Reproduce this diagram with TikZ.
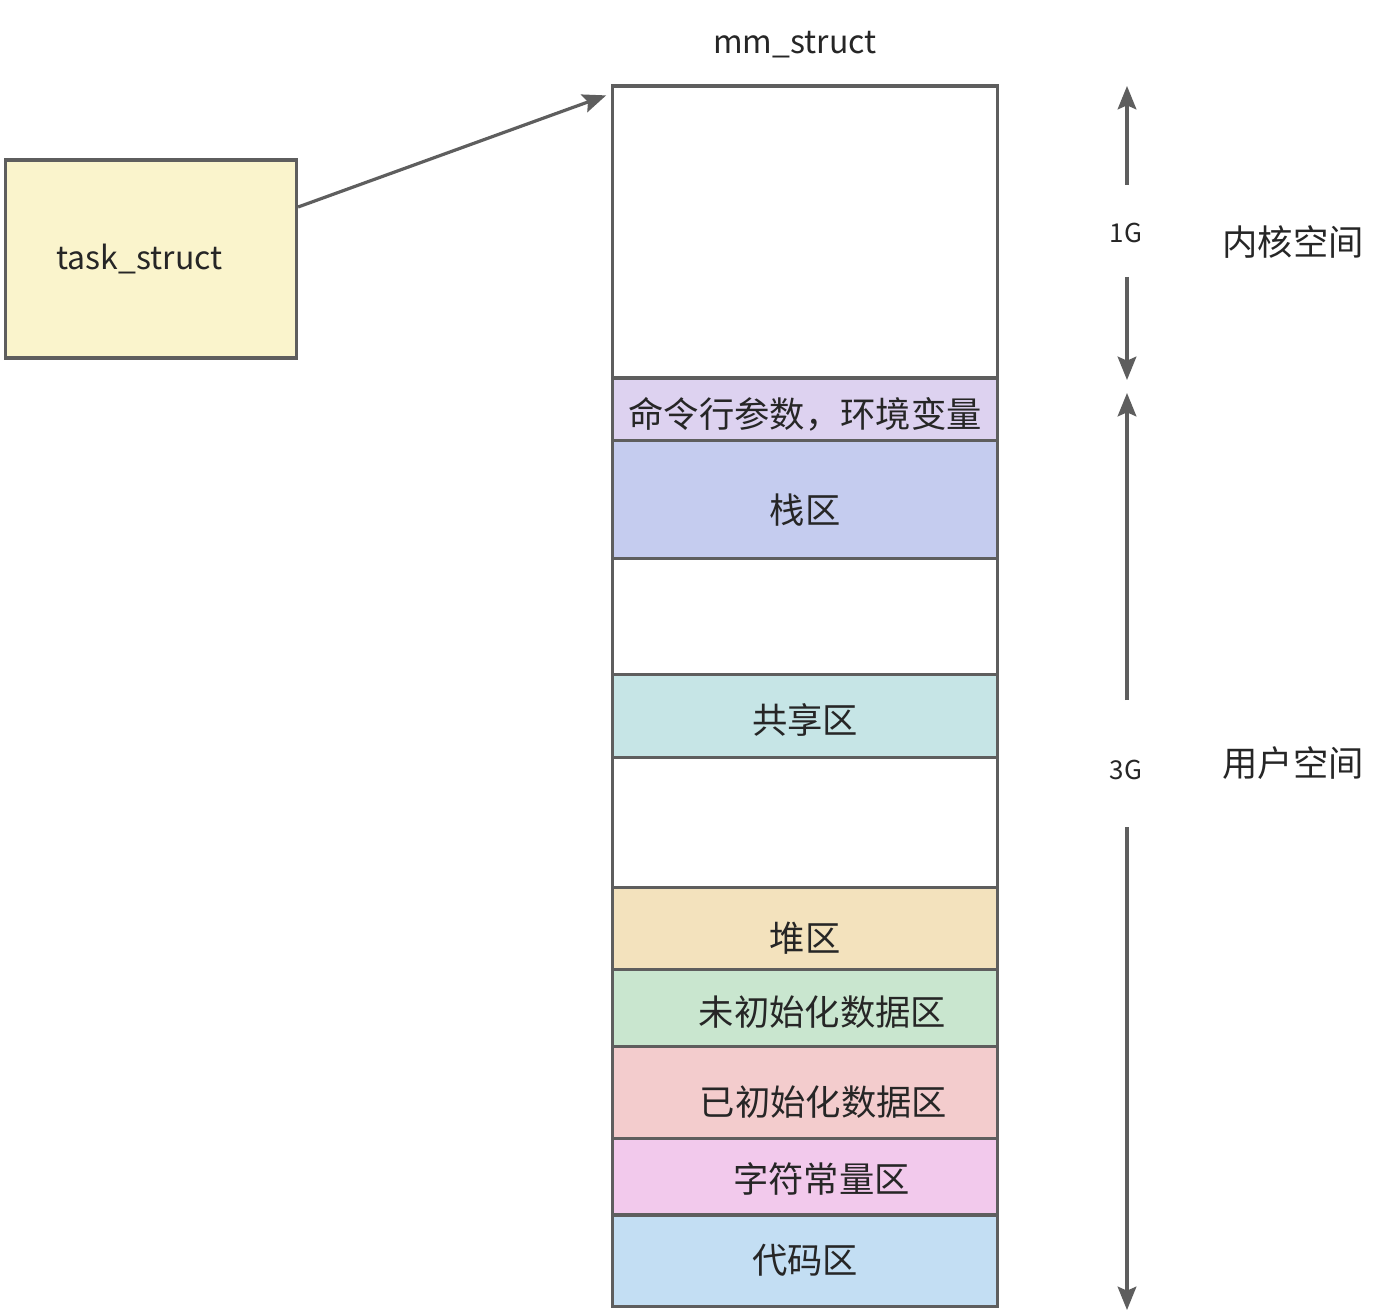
\documentclass[tikz,border=0pt]{standalone}
\usepackage{fontspec}
\setmainfont{Noto Sans CJK SC}
\usetikzlibrary{arrows.meta}
\definecolor{linec}{RGB}{94,94,94}
\definecolor{textc}{RGB}{38,38,38}
\definecolor{taskc}{RGB}{250,244,204}
\definecolor{cmdc}{RGB}{221,210,240}
\definecolor{stackc}{RGB}{197,204,239}
\definecolor{sharec}{RGB}{198,229,230}
\definecolor{heapc}{RGB}{243,226,189}
\definecolor{uninitc}{RGB}{201,230,207}
\definecolor{initc}{RGB}{243,204,205}
\definecolor{constc}{RGB}{242,201,236}
\definecolor{codec}{RGB}{195,222,243}
\begin{document}
\begin{tikzpicture}[x=0.75pt,y=-0.75pt,
  band/.style={rectangle, draw=linec, line width=2.4pt, minimum width=289.125pt, inner sep=0pt, minimum height=#1*0.75pt},
  lbl/.style={text=textc, font=\fontsize{26.5pt}{30pt}\selectfont, inner sep=0pt},
  latin/.style={text=textc, font=\fontsize{24pt}{28pt}\selectfont, inner sep=0pt},
  small/.style={text=textc, font=\fontsize{19.5pt}{22pt}\selectfont, inner sep=0pt},
  arr/.style={draw=linec, line width=2.4pt, -{Stealth[length=17.5pt,width=14pt,inset=3pt]}},
]
\useasboundingbox (0,0) rectangle (1381,1312);

% task_struct
\node[rectangle, draw=linec, line width=2.4pt, fill=taskc, minimum width=218.25pt, minimum height=148.5pt, inner sep=0pt, latin] (task) at (151,259) {task\_struct\hspace*{17.25pt}};

% mm_struct bands
\node[band=292, fill=white] (kernel) at (805,232) {};
\node[band=62.5, fill=cmdc] (cmd) at (805,409.25) {};
\node[band=118, fill=stackc] (stack) at (805,499.5) {};
\node[band=116, fill=white] (gapa) at (805,616.5) {};
\node[band=83, fill=sharec] (share) at (805,716) {};
\node[band=130, fill=white] (gapb) at (805,822.5) {};
\node[band=82, fill=heapc] (heap) at (805,928.5) {};
\node[band=77, fill=uninitc] (uninit) at (805,1008) {};
\node[band=92, fill=initc] (init) at (805,1092.5) {};
\node[band=76.5, fill=constc] (const) at (805,1176.75) {};
\node[band=91.5, fill=codec] (code) at (805,1260.75) {};

% band texts
\node[lbl] (tcmd) at (805,414) {命令行参数，环境变量};
\node[lbl] (tstack) at (805,510) {栈区};
\node[lbl] (tshare) at (805,720) {共享区};
\node[lbl] (theap) at (805,938) {堆区};
\node[lbl] (tuninit) at (822.5,1012) {未初始化数据区};
\node[lbl] (tinit) at (823.5,1102) {已初始化数据区};
\node[lbl] (tconst) at (821.5,1179) {字符常量区};
\node[lbl] (tcode) at (805,1260) {代码区};

\node[latin] (mm) at (795,45) {mm\_struct};

% pointer arrow
\draw[arr] ([yshift=39pt]task.east) -- ([shift={(-4.5,11)}]kernel.north west);

% right side
\node[small] (g1) at (1126,233) {1G};
\node[small] (g3) at (1126,770) {3G};
\node[lbl] (ks) at (1293,242) {内核空间};
\node[lbl] (us) at (1293,763.5) {用户空间};

\coordinate (k1) at (1127,185);
\coordinate (k1t) at (1127,86);
\coordinate (k2) at (1127,277);
\coordinate (k2t) at (1127,380);
\coordinate (u1) at (1127,700);
\coordinate (u1t) at (1127,393);
\coordinate (u2) at (1127,827);
\coordinate (u2t) at (1127,1310);
\draw[arr] (k1) -- (k1t);
\draw[arr] (k2) -- (k2t);
\draw[arr] (u1) -- (u1t);
\draw[arr] (u2) -- (u2t);
\end{tikzpicture}
\end{document}
